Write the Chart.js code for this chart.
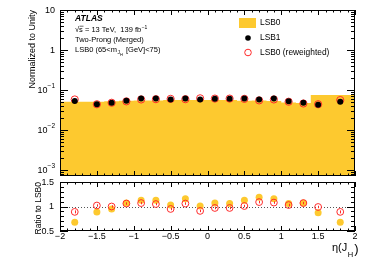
<!DOCTYPE html>
<html>
<head>
<meta charset="utf-8">
<script src="https://cdn.jsdelivr.net/npm/chart.js@4.4.0/dist/chart.umd.min.js"></script>
<style>
  html, body { margin: 0; padding: 0; background: #fff; }
  #wrap { position: relative; width: 374px; height: 268px; }
  #wrap canvas { position: absolute; left: 0; top: 0; }
</style>
</head>
<body>
<div id="wrap">
  <canvas id="upper" width="374" height="268"></canvas>
  <canvas id="lower" width="374" height="268"></canvas>
</div>
<script>
'use strict';

// eta(J_H) bin edges (first and last bins are wider)
var binEdges = [-2, -1.6, -1.4, -1.2, -1.0, -0.8, -0.6, -0.4, -0.2, 0, 0.2, 0.4, 0.6, 0.8, 1.0, 1.2, 1.4, 1.6, 2];

// normalized distributions
var lsb0 = [0.078, 0.051, 0.051, 0.052, 0.054, 0.055, 0.055, 0.056, 0.056, 0.056, 0.056, 0.056, 0.054, 0.055, 0.053, 0.049, 0.047, 0.075];
var lsb1 = [0.053, 0.044, 0.048, 0.054, 0.061, 0.061, 0.058, 0.061, 0.058, 0.060, 0.060, 0.061, 0.058, 0.061, 0.052, 0.048, 0.043, 0.051];
var lsb0Rew = [0.058, 0.044, 0.048, 0.052, 0.058, 0.059, 0.060, 0.059, 0.062, 0.061, 0.061, 0.060, 0.055, 0.058, 0.051, 0.046, 0.044, 0.056];

// ratio panel
var ratioLsb1 = [0.68, 0.89, 0.95, 1.07, 1.13, 1.13, 1.03, 1.16, 1.01, 1.07, 1.06, 1.13, 1.19, 1.16, 1.06, 1.07, 0.87, 0.68];
var ratioRew = [0.89, 1.02, 1.00, 1.06, 1.07, 1.05, 0.95, 1.06, 0.91, 0.97, 0.97, 1.01, 1.09, 1.08, 1.03, 1.07, 0.99, 0.89];
var ratioRewErr = [0.03, 0.025, 0.025, 0.025, 0.025, 0.025, 0.025, 0.025, 0.025, 0.025, 0.025, 0.025, 0.025, 0.025, 0.025, 0.025, 0.025, 0.03];

// tick labels
var xTickValues = [-2, -1.5, -1, -0.5, 0, 0.5, 1, 1.5, 2];
var xTickLabels = ['\u22122', '\u22121.5', '\u22121', '\u22120.5', '0', '0.5', '1', '1.5', '2'];
var yUpperTicks = [10, 1, 0.1, 0.01, 0.001];
var yUpperLabels = [['10', ''], ['1', ''], ['10', '\u22121'], ['10', '\u22122'], ['10', '\u22123']];
var yLowerTicks = [1.5, 1, 0.5];
var yLowerLabels = ['1.5', '1', '0.5'];

var FONT = "'Liberation Sans', Arial, Helvetica, sans-serif";
var YELLOW = '#fdc92f';
var RED = '#ff2a2a';

var centers = [];
for (var i = 0; i < binEdges.length - 1; i++) {
    centers.push((binEdges[i] + binEdges[i + 1]) / 2);
}

function pts(xs, ys) {
    return xs.map(function(x, i) { return { x: x, y: ys[i] }; });
}

// step histogram: one point per left edge, plus the last right edge
var histPoints = binEdges.map(function(e, i) {
    return { x: e, y: lsb0[Math.min(i, lsb0.length - 1)] };
});

function crisp(v) { return Math.round(v) + 0.5; }

function drawXTicks(ctx, chart) {
    var a = chart.chartArea, xs = chart.scales.x;
    ctx.beginPath();
    for (var i = -20; i <= 20; i++) {
        var px = crisp(xs.getPixelForValue(i / 10));
        var len = (i % 5 === 0) ? 5 : 2.5;
        ctx.moveTo(px, a.bottom); ctx.lineTo(px, a.bottom - len);
        ctx.moveTo(px, a.top); ctx.lineTo(px, a.top + len);
    }
    ctx.stroke();
}

function drawFrame(ctx, chart) {
    var a = chart.chartArea;
    ctx.strokeRect(crisp(a.left), crisp(a.top), Math.round(a.right - a.left) - 1, Math.round(a.bottom - a.top) - 1);
}

var upperPlugin = {
    id: 'upperDeco',
    afterDraw: function(chart) {
        var ctx = chart.ctx, a = chart.chartArea, ys = chart.scales.y;
        ctx.save();
        ctx.strokeStyle = '#000';
        ctx.lineWidth = 1;
        drawFrame(ctx, chart);
        drawXTicks(ctx, chart);

        // log y ticks on both sides
        ctx.beginPath();
        for (var d = -4; d <= 1; d++) {
            for (var k = 1; k <= 9; k++) {
                var v = k * Math.pow(10, d);
                if (v < ys.min || v > ys.max) continue;
                var py = crisp(ys.getPixelForValue(v));
                var len = k === 1 ? 8 : 4;
                ctx.moveTo(a.left, py); ctx.lineTo(a.left + len, py);
                ctx.moveTo(a.right, py); ctx.lineTo(a.right - len, py);
            }
        }
        ctx.stroke();

        // y tick labels with exponents
        ctx.fillStyle = '#000';
        ctx.textBaseline = 'middle';
        ctx.textAlign = 'right';
        yUpperTicks.forEach(function(v, i) {
            var py = ys.getPixelForValue(v);
            var base = yUpperLabels[i][0], exp = yUpperLabels[i][1];
            var xr = 55;
            if (exp) {
                ctx.font = '6.5px ' + FONT;
                var w = ctx.measureText(exp).width;
                ctx.fillText(exp, xr, py - 3.5);
                xr -= w;
            }
            ctx.font = '9px ' + FONT;
            ctx.fillText(base, xr, py + 0.5);
        });

        // y title
        ctx.save();
        ctx.translate(33, a.top);
        ctx.rotate(-Math.PI / 2);
        ctx.font = '9px ' + FONT;
        ctx.textAlign = 'right';
        ctx.textBaseline = 'middle';
        ctx.fillText('Normalized to Unity', 0, 0);
        ctx.restore();

        // labels
        ctx.textAlign = 'left';
        ctx.font = 'italic bold 8.5px ' + FONT;
        ctx.fillText('ATLAS', 75, 19);
        ctx.font = '7.5px ' + FONT;
        var x = 75;
        ctx.fillText('\u221As = 13 TeV,  139 fb', x, 30);
        x += ctx.measureText('\u221As = 13 TeV,  139 fb').width;
        ctx.font = '5px ' + FONT;
        ctx.fillText('\u22121', x + 0.5, 27.5);
        // overline of sqrt
        ctx.beginPath();
        ctx.lineWidth = 0.6;
        ctx.moveTo(79.5, 26.2); ctx.lineTo(83.5, 26.2);
        ctx.stroke();
        ctx.font = '7.5px ' + FONT;
        ctx.fillText('Two-Prong (Merged)', 75, 40);
        var t1 = 'LSB0 (65<m';
        ctx.fillText(t1, 75, 49.5);
        x = 75 + ctx.measureText(t1).width;
        ctx.font = '5px ' + FONT;
        ctx.fillText('J', x + 0.5, 52.5);
        ctx.font = '4px ' + FONT;
        ctx.fillText('H', x + 3, 54.5);
        ctx.font = '7.5px ' + FONT;
        ctx.fillText(' [GeV]<75)', x + 7, 49.5);

        // legend
        ctx.fillStyle = YELLOW;
        ctx.fillRect(239, 18, 17, 10);
        ctx.fillStyle = '#000';
        ctx.font = '8.4px ' + FONT;
        ctx.fillText('LSB0', 260, 23);
        ctx.fillText('LSB1', 260, 38);
        ctx.fillText('LSB0 (reweighted)', 260, 52.5);
        ctx.beginPath();
        ctx.arc(248, 38, 2.8, 0, Math.PI * 2);
        ctx.fill();
        ctx.beginPath();
        ctx.strokeStyle = RED;
        ctx.lineWidth = 1;
        ctx.arc(248, 52.5, 3.3, 0, Math.PI * 2);
        ctx.stroke();
        ctx.restore();
    }
};

var lowerPlugin = {
    id: 'lowerDeco',
    beforeDatasetsDraw: function(chart) {
        var ctx = chart.ctx, a = chart.chartArea, ys = chart.scales.y;
        var py = crisp(ys.getPixelForValue(1));
        ctx.save();
        ctx.strokeStyle = '#555';
        ctx.lineWidth = 1;
        ctx.setLineDash([1, 2]);
        ctx.beginPath();
        ctx.moveTo(a.left, py); ctx.lineTo(a.right, py);
        ctx.stroke();
        ctx.restore();
    },
    afterDatasetsDraw: function(chart) {
        var ctx = chart.ctx, xs = chart.scales.x, ys = chart.scales.y;
        ctx.save();
        ctx.strokeStyle = RED;
        ctx.lineWidth = 1;
        ctx.beginPath();
        centers.forEach(function(c, i) {
            var px = crisp(xs.getPixelForValue(c));
            ctx.moveTo(px, ys.getPixelForValue(ratioRew[i] - ratioRewErr[i]));
            ctx.lineTo(px, ys.getPixelForValue(ratioRew[i] + ratioRewErr[i]));
        });
        ctx.stroke();
        ctx.restore();
    },
    afterDraw: function(chart) {
        var ctx = chart.ctx, a = chart.chartArea, xs = chart.scales.x, ys = chart.scales.y;
        ctx.save();
        ctx.strokeStyle = '#000';
        ctx.lineWidth = 1;
        drawFrame(ctx, chart);
        drawXTicks(ctx, chart);

        ctx.beginPath();
        for (var i = 5; i <= 15; i++) {
            var py = crisp(ys.getPixelForValue(i / 10));
            var len = (i % 5 === 0) ? 8 : 4;
            ctx.moveTo(a.left, py); ctx.lineTo(a.left + len, py);
            ctx.moveTo(a.right, py); ctx.lineTo(a.right - len, py);
        }
        ctx.stroke();

        ctx.fillStyle = '#000';
        ctx.font = '9px ' + FONT;
        ctx.textBaseline = 'middle';
        ctx.textAlign = 'right';
        yLowerTicks.forEach(function(v, i) {
            ctx.fillText(yLowerLabels[i], 54, ys.getPixelForValue(v) + 0.5);
        });
        ctx.textAlign = 'center';
        xTickValues.forEach(function(v, i) {
            ctx.fillText(xTickLabels[i], xs.getPixelForValue(v), 237);
        });

        // y title
        ctx.save();
        ctx.translate(38.5, a.top);
        ctx.rotate(-Math.PI / 2);
        ctx.font = '8.5px ' + FONT;
        ctx.textAlign = 'right';
        ctx.fillText('Ratio to LSB0', 0, 0);
        ctx.restore();

        // x title eta(J_H)
        ctx.textAlign = 'left';
        ctx.font = '11px ' + FONT;
        var x = 332;
        ctx.fillText('\u03B7(J', x, 248);
        x += ctx.measureText('\u03B7(J').width;
        ctx.font = '7.5px ' + FONT;
        ctx.fillText('H', x + 0.5, 254.5);
        x += ctx.measureText('H').width + 1.5;
        ctx.font = '13px ' + FONT;
        ctx.fillText(')', x, 249.5);
        ctx.restore();
    }
};

new Chart(document.getElementById('upper'), {
    type: 'scatter',
    data: {
        datasets: [{
            label: 'LSB1',
            data: pts(centers, lsb1),
            pointRadius: 3,
            backgroundColor: '#000',
            borderColor: '#000',
            borderWidth: 0
        }, {
            label: 'LSB0 (reweighted)',
            data: pts(centers, lsb0Rew),
            pointRadius: 3.6,
            backgroundColor: 'rgba(0,0,0,0)',
            borderColor: RED,
            borderWidth: 1
        }, {
            type: 'line',
            label: 'LSB0',
            data: histPoints,
            showLine: true,
            stepped: 'after',
            fill: 'start',
            backgroundColor: YELLOW,
            borderColor: YELLOW,
            borderWidth: 0,
            pointRadius: 0
        }]
    },
    options: {
        responsive: false,
        animation: false,
        events: [],
        layout: { padding: { left: 60, right: 19, top: 10, bottom: 92 } },
        plugins: { legend: { display: false }, tooltip: { enabled: false } },
        scales: {
            x: { type: 'linear', min: -2, max: 2, display: false },
            y: { type: 'logarithmic', min: 7.08e-4, max: 10, display: false }
        }
    },
    plugins: [upperPlugin]
});

new Chart(document.getElementById('lower'), {
    type: 'scatter',
    data: {
        datasets: [{
            label: 'LSB0 (reweighted)',
            data: pts(centers, ratioRew),
            pointRadius: 3.4,
            backgroundColor: 'rgba(0,0,0,0)',
            borderColor: RED,
            borderWidth: 1
        }, {
            label: 'LSB1',
            data: pts(centers, ratioLsb1),
            pointRadius: 3.5,
            backgroundColor: YELLOW,
            borderColor: YELLOW,
            borderWidth: 0
        }]
    },
    options: {
        responsive: false,
        animation: false,
        events: [],
        layout: { padding: { left: 60, right: 19, top: 182, bottom: 37 } },
        plugins: { legend: { display: false }, tooltip: { enabled: false } },
        scales: {
            x: { type: 'linear', min: -2, max: 2, display: false },
            y: { type: 'linear', min: 0.5, max: 1.5, display: false }
        }
    },
    plugins: [lowerPlugin]
});
</script>
</body>
</html>
